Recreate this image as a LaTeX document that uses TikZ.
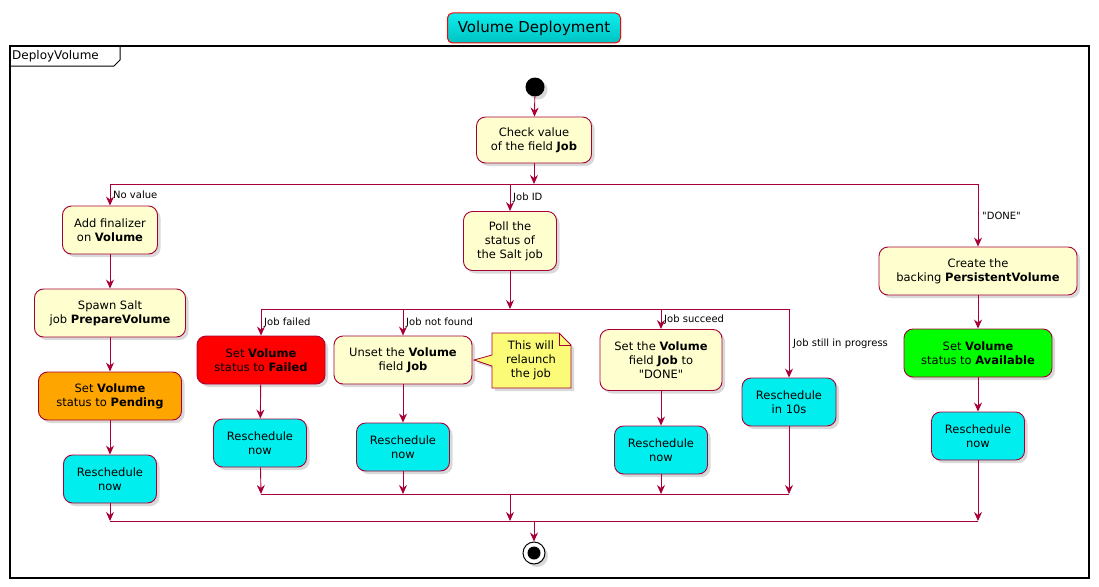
\documentclass[tikz,border=0pt]{standalone}
\usepackage{fontspec}
\setmainfont{DejaVu Sans}
\usetikzlibrary{arrows.meta,shadows,shapes.misc}
\definecolor{bd}{HTML}{A80036}
\definecolor{yel}{HTML}{FEFECE}
\definecolor{cy}{HTML}{00EEEE}
\definecolor{notec}{HTML}{FBFB77}
\definecolor{orng}{HTML}{FFA500}
\begin{document}
\begin{tikzpicture}[x=1pt,y=-1pt,
  act/.style={draw=bd,line width=0.9pt,rounded corners=9pt,fill=yel,align=center,inner sep=0pt,
    font=\fontsize{11.5}{14}\selectfont,drop shadow={shadow xshift=3pt,shadow yshift=-3pt,opacity=0.3}},
  lbl/.style={font=\fontsize{10}{12}\selectfont,inner sep=1pt},
  flow/.style={draw=bd,line width=0.9pt,-{Stealth[length=9pt,width=8pt,inset=3pt]}},
  ln/.style={draw=bd,line width=0.9pt}]
\useasboundingbox (0,0) rectangle (1099,586);
% title
\node[draw=red,line width=1pt,rounded corners=5pt,top color=cy!95!white,bottom color=cy!60!teal,minimum width=173pt,minimum height=30pt,font=\fontsize{15}{18}\selectfont] (title) at (534,28) {Volume Deployment};
% frame
\draw[line width=1.4pt] (10,46) rectangle (1089,578);
\draw[line width=1pt] (10,66) -- (114,66) -- (120,60) -- (120,46);
\node[anchor=west,inner sep=1pt,font=\fontsize{12}{13}\selectfont] (fl) at (11,56) {DeployVolume};
% start
\node[circle,fill=black,minimum size=19pt,inner sep=0pt,drop shadow={shadow xshift=3pt,shadow yshift=-3pt,opacity=0.3}] (start) at (535,87) {};
\node[act,minimum width=115pt,minimum height=46pt] (check) at (534,140) {Check value\\of the field \textbf{Job}};
\coordinate (s1) at (534,184);
\coordinate (sL) at (110,184);
\coordinate (sM) at (510,184);
\coordinate (sR) at (978,184);
% left
\node[act,minimum width=95pt,minimum height=48pt] (fin) at (110,230) {Add finalizer\\on \textbf{Volume}};
\node[act,minimum width=151pt,minimum height=48pt] (spawn) at (110,313) {Spawn Salt\\job \textbf{PrepareVolume}};
\node[act,fill=orng,minimum width=143pt,minimum height=48pt] (pend) at (110,396) {Set \textbf{Volume}\\status to \textbf{Pending}};
\node[act,fill=cy,minimum width=93pt,minimum height=48pt] (r1) at (110,479) {Reschedule\\now};
% middle
\node[act,minimum width=93pt,minimum height=59pt] (poll) at (510,241) {Poll the\\status of\\the Salt job};
\coordinate (s2) at (510,309);
\coordinate (aF) at (261,309);
\coordinate (aN) at (403,309);
\coordinate (aS) at (661,309);
\coordinate (aP) at (789,309);
\node[act,fill=red,minimum width=128pt,minimum height=48pt] (failed) at (261,360) {Set \textbf{Volume}\\status to \textbf{Failed}};
\node[act,fill=cy,minimum width=93pt,minimum height=48pt] (r2) at (260,443) {Reschedule\\now};
\node[act,minimum width=138pt,minimum height=48pt] (unset) at (403,360) {Unset the \textbf{Volume}\\field \textbf{Job}};
\node[act,fill=cy,minimum width=93pt,minimum height=48pt] (r3) at (403,447) {Reschedule\\now};
\node[act,minimum width=122pt,minimum height=61pt] (done) at (661,360) {Set the \textbf{Volume}\\field \textbf{Job} to\\\textquotedbl DONE\textquotedbl};
\node[act,fill=cy,minimum width=93pt,minimum height=48pt] (r4) at (661,450) {Reschedule\\now};
\node[act,fill=cy,minimum width=94pt,minimum height=48pt] (r5) at (789,402) {Reschedule\\in 10s};
% note
\filldraw[draw=bd,fill=notec,line width=0.8pt,drop shadow={shadow xshift=3pt,shadow yshift=-3pt,opacity=0.3}] (492,333) -- (559,333) -- (571,345) -- (571,388) -- (492,388) -- (492,366) -- (474,360) -- (492,355) -- cycle;
\draw[draw=bd,line width=0.8pt] (559,333) -- (559,345) -- (571,345);
\node[align=center,inner sep=0pt,font=\fontsize{11.5}{14}\selectfont] (note) at (531,360) {This will\\relaunch\\the job};
\coordinate (m2) at (510,494);
\coordinate (mF) at (261,494);
\coordinate (mN) at (403,494);
\coordinate (mS) at (661,494);
\coordinate (mP) at (789,494);
% right
\node[act,minimum width=198pt,minimum height=48pt] (pv) at (978,271) {Create the\\backing \textbf{PersistentVolume}};
\node[act,fill=green,minimum width=148pt,minimum height=48pt] (avail) at (978,353) {Set \textbf{Volume}\\status to \textbf{Available}};
\node[act,fill=cy,minimum width=93pt,minimum height=48pt] (r6) at (978,436) {Reschedule\\now};
% merge
\coordinate (m1) at (534,521);
\coordinate (mL) at (110,521);
\coordinate (mM) at (510,521);
\coordinate (mR) at (978,521);
\node[circle,draw=black,line width=1pt,fill=white,minimum size=22pt,inner sep=0pt,drop shadow={shadow xshift=3pt,shadow yshift=-3pt,opacity=0.3}] (end) at (534,553) {};
\node[circle,fill=black,minimum size=13pt,inner sep=0pt] (endi) at (534,553) {};
% edges
\path[flow] (start) -- (check);
\path[flow] (check) -- (s1);
\path[ln] (sL) -- (sR);
\path[flow] (sL) -- (fin);
\path[flow] (sM) -- (poll);
\path[flow] (sR) -- (pv);
\path[flow] (fin) -- (spawn);
\path[flow] (spawn) -- (pend);
\path[flow] (pend) -- (r1);
\path[flow] (poll) -- (s2);
\path[ln] (aF) -- (aP);
\path[flow] (aF) -- (failed);
\path[flow] (aN) -- (unset);
\path[flow] (aS) -- (done);
\path[flow] (aP) -- (r5);
\path[flow] (failed) -- (r2);
\path[flow] (unset) -- (r3);
\path[flow] (done) -- (r4);
\path[flow] (r2) -- (mF);
\path[flow] (r3) -- (mN);
\path[flow] (r4) -- (mS);
\path[flow] (r5) -- (mP);
\path[ln] (mF) -- (mP);
\path[flow] (m2) -- (mM);
\path[flow] (pv) -- (avail);
\path[flow] (avail) -- (r6);
\path[flow] (r1) -- (mL);
\path[flow] (r6) -- (mR);
\path[ln] (mL) -- (mR);
\path[flow] (m1) -- (end);
% labels
\node[lbl,anchor=west] (l1) at (112,195) {No value};
\node[lbl,anchor=west] (l2) at (512,198) {Job ID};
\node[lbl,anchor=west] (l3) at (981,216) {\textquotedbl DONE\textquotedbl};
\node[lbl,anchor=west] (l4) at (263,323) {Job failed};
\node[lbl,anchor=west] (l5) at (405,323) {Job not found};
\node[lbl,anchor=west] (l6) at (663,320) {Job succeed};
\node[lbl,anchor=west] (l7) at (792,344) {Job still in progress};
\end{tikzpicture}
\end{document}
